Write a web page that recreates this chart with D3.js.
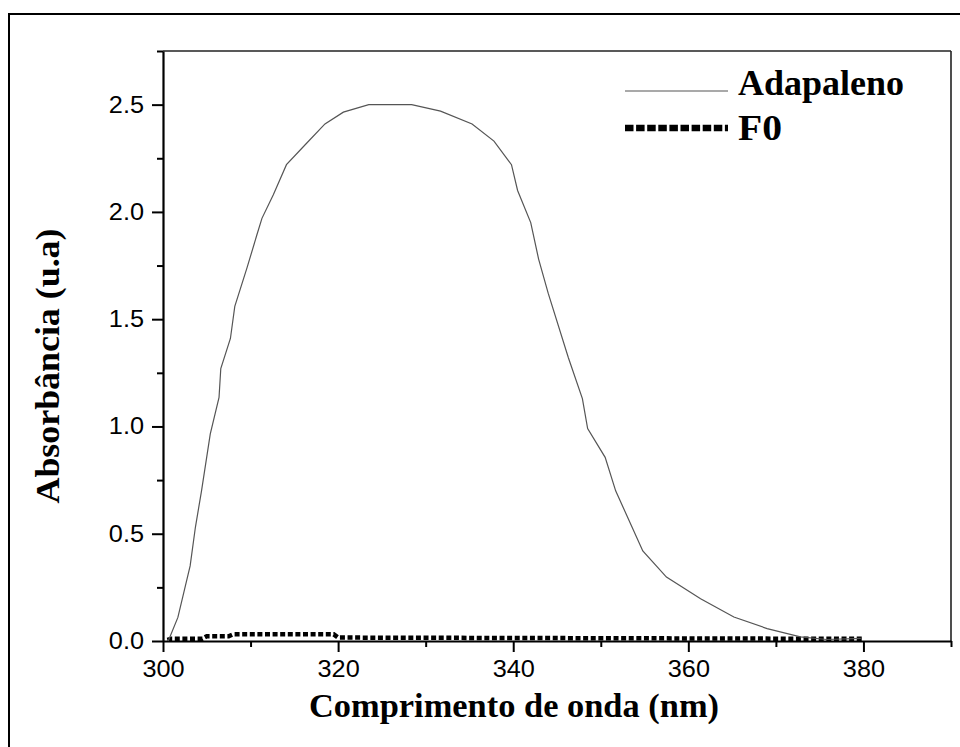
<!DOCTYPE html>
<html>
<head>
<meta charset="utf-8">
<script src="https://cdn.jsdelivr.net/npm/d3@7/dist/d3.min.js"></script>
<style>
  html, body { margin: 0; padding: 0; background: #fff; }
  svg { display: block; }
</style>
</head>
<body>
<svg id="chart" width="960" height="747"></svg>
<script>
// ---- data ----
const adapalenoWavelength = [300.6, 301.7, 303.1, 303.7, 304.4, 305.4, 306.4, 306.6, 307.7, 308.2, 309.6, 310.7, 311.3, 312.6, 314.1, 316.4, 318.5, 320.6, 323.5, 328.4, 331.7, 335.3, 337.8, 339.8, 340.5, 342.0, 342.9, 344.0, 346.3, 347.9, 348.5, 350.5, 351.7, 354.8, 357.5, 361.4, 365.2, 369.0, 372.8, 375.8, 379.7];
const adapalenoAbs = [0.00, 0.11, 0.35, 0.53, 0.70, 0.965, 1.135, 1.27, 1.41, 1.56, 1.74, 1.89, 1.97, 2.08, 2.22, 2.32, 2.41, 2.465, 2.50, 2.50, 2.47, 2.41, 2.33, 2.22, 2.10, 1.95, 1.78, 1.62, 1.32, 1.13, 0.99, 0.856, 0.70, 0.42, 0.298, 0.197, 0.112, 0.058, 0.019, 0.007, 0.012];

const f0Wavelength = [300.5, 301, 304.5, 305, 307.5, 308, 319.5, 320, 330, 340, 350, 360, 370, 380];
const f0Abs = [0.005, 0.011, 0.011, 0.022, 0.022, 0.031, 0.031, 0.016, 0.015, 0.014, 0.013, 0.012, 0.011, 0.010];

const seriesNames = ["Adapaleno", "F0"];
const xTicks = [300, 320, 340, 360, 380];
const xMinorTicks = [310, 330, 350, 370, 390];
const yTicks = [0.0, 0.5, 1.0, 1.5, 2.0, 2.5];
const yMinorTicks = [0.25, 0.75, 1.25, 1.75, 2.25, 2.75];
const xLabel = "Comprimento de onda (nm)";
const yLabel = "Absorbância (u.a)";

// ---- layout ----
const svg = d3.select("#chart");
const m = { left: 163, top: 51, right: 951, bottom: 641 };

const x = d3.scaleLinear().domain([300, 390]).range([m.left, m.right]);
const y = d3.scaleLinear().domain([0, 2.75]).range([m.bottom, m.top]);

// outer frame (cropped at right/bottom)
svg.append("rect")
  .attr("x", 9).attr("y", 14).attr("width", 1000).attr("height", 800)
  .attr("fill", "none").attr("stroke", "#000").attr("stroke-width", 2);

// top & right box lines
svg.append("line").attr("x1", m.left).attr("x2", m.right).attr("y1", m.top).attr("y2", m.top)
  .attr("stroke", "#222").attr("stroke-width", 1.6);
svg.append("line").attr("x1", m.right).attr("x2", m.right).attr("y1", m.top).attr("y2", m.bottom)
  .attr("stroke", "#222").attr("stroke-width", 1.6);

const tickFont = "'Liberation Sans', Arial, sans-serif";

// x axis
const xAxis = svg.append("g").attr("transform", `translate(0,${m.bottom})`)
  .call(d3.axisBottom(x).tickValues(xTicks).tickFormat(d3.format("d")).tickSize(11).tickPadding(9).tickSizeOuter(0));
const xMinor = svg.append("g").attr("transform", `translate(0,${m.bottom})`)
  .call(d3.axisBottom(x).tickValues(xMinorTicks).tickFormat("").tickSize(6).tickSizeOuter(0));

// y axis
const yAxis = svg.append("g").attr("transform", `translate(${m.left},0)`)
  .call(d3.axisLeft(y).tickValues(yTicks).tickFormat(d3.format(".1f")).tickSize(11).tickPadding(8).tickSizeOuter(0));
const yMinor = svg.append("g").attr("transform", `translate(${m.left},0)`)
  .call(d3.axisLeft(y).tickValues(yMinorTicks).tickFormat("").tickSize(6).tickSizeOuter(0));

[xAxis, xMinor, yAxis, yMinor].forEach(g => {
  g.selectAll(".domain").attr("stroke", "#000").attr("stroke-width", 2.2);
  g.selectAll(".tick line").attr("stroke", "#000").attr("stroke-width", 2);
  g.selectAll(".tick text").attr("fill", "#000").style("font-family", tickFont).style("font-size", "23px");
});
xMinor.select(".domain").remove();
yMinor.select(".domain").remove();

// slightly widen tick labels, as in the reference
[xAxis, yAxis].forEach(g => {
  g.selectAll(".tick text").each(function () {
    const len = this.getComputedTextLength();
    d3.select(this).attr("textLength", len * 1.1).attr("lengthAdjust", "spacingAndGlyphs");
  });
});

// data lines
const adapaleno = adapalenoWavelength.map((w, i) => ({ w, a: adapalenoAbs[i] }));
const f0 = f0Wavelength.map((w, i) => ({ w, a: f0Abs[i] }));
const line = d3.line().x(d => x(d.w)).y(d => y(d.a));

svg.append("path").datum(f0).attr("d", line)
  .attr("fill", "none").attr("stroke", "#000").attr("stroke-width", 4.5)
  .attr("stroke-dasharray", "5,2.6");

svg.append("path").datum(adapaleno).attr("d", line)
  .attr("fill", "none").attr("stroke", "#555").attr("stroke-width", 1.2);

// legend
const serif = "'Liberation Serif', 'Times New Roman', serif";
const leg = svg.append("g");
leg.append("line").attr("x1", 625).attr("x2", 728).attr("y1", 91).attr("y2", 91)
  .attr("stroke", "#555").attr("stroke-width", 1.2);
leg.append("text").attr("x", 738).attr("y", 95).text(seriesNames[0])
  .attr("textLength", 166).attr("lengthAdjust", "spacingAndGlyphs")
  .style("font-family", serif).style("font-weight", "bold").style("font-size", "35px");
leg.append("line").attr("x1", 625).attr("x2", 728).attr("y1", 128).attr("y2", 128)
  .attr("stroke", "#000").attr("stroke-width", 6.5).attr("stroke-dasharray", "8.5,2.6");
leg.append("text").attr("x", 738).attr("y", 140).text(seriesNames[1])
  .attr("textLength", 44).attr("lengthAdjust", "spacingAndGlyphs")
  .style("font-family", serif).style("font-weight", "bold").style("font-size", "35px");

// axis titles
svg.append("text").attr("x", 514).attr("y", 717).attr("text-anchor", "middle").text(xLabel)
  .attr("textLength", 410).attr("lengthAdjust", "spacingAndGlyphs")
  .style("font-family", serif).style("font-weight", "bold").style("font-size", "34.5px");
svg.append("text").attr("transform", "translate(59,366) rotate(-90)").attr("text-anchor", "middle").text(yLabel)
  .attr("textLength", 275).attr("lengthAdjust", "spacingAndGlyphs")
  .style("font-family", serif).style("font-weight", "bold").style("font-size", "34.5px");
</script>
</body>
</html>
